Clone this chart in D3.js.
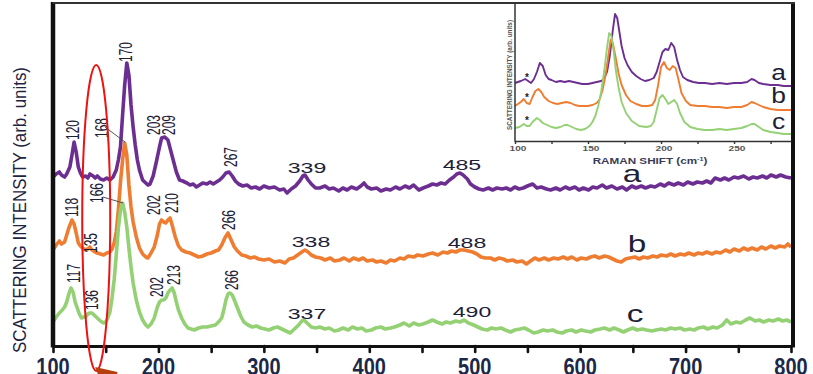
<!DOCTYPE html>
<html>
<head>
<meta charset="utf-8">
<script src="https://cdn.jsdelivr.net/npm/d3@7"></script>
<style>
  body { margin: 0; background: #fff; }
  svg { display: block; }
  text { font-family: "Liberation Sans", Arial, sans-serif; }
</style>
</head>
<body>
<svg id="chart" width="813" height="374"></svg>
<script>
// Raman shift (cm-1) vs scattering intensity (arb. units)
var spectrumA = [[100,169],[103,172],[106,174],[108,171],[111,169],[113,172],[116,179],[118,191],[120,204],[122,194],[124,179],[126,173],[128,169],[131,170],[133,168],[135,172],[138,170],[140,168],[142,170],[145,167],[148,166],[151,168],[154,166],[157,169],[160,176],[162,186],[164,199],[166,231],[168,261],[170,283],[172,271],[174,241],[176,219],[178,201],[180,186],[182,176],[185,166],[188,163],[190,161],[192,162],[195,170],[198,184],[201,199],[203,208],[206,209],[209,206],[211,198],[214,186],[217,174],[220,166],[223,165],[227,163],[230,161],[233,162],[236,159],[239,161],[242,163],[246,162],[249,164],[252,162],[255,164],[258,166],[261,169],[264,173],[267,174],[270,170],[273,165],[276,162],[280,160],[284,161],[288,158],[292,159],[296,157],[300,160],[305,158],[310,159],[315,156],[319,157],[322,153],[326,157],[330,160],[334,165],[337,170],[339,171],[342,166],[345,162],[349,158],[353,158],[358,160],[362,157],[366,158],[371,155],[375,158],[379,156],[383,159],[388,157],[392,160],[395,163],[398,159],[402,157],[407,158],[411,155],[416,157],[420,156],[425,159],[429,157],[434,160],[438,158],[442,161],[447,156],[451,158],[456,160],[460,162],[464,161],[468,163],[472,162],[476,166],[480,169],[483,172],[486,173],[489,171],[493,167],[496,162],[500,159],[504,157],[508,156],[513,158],[517,156],[521,158],[526,157],[530,158],[534,156],[538,159],[542,157],[546,158],[550,160],[555,162],[559,158],[563,159],[568,157],[572,156],[577,158],[581,156],[586,159],[590,157],[595,159],[599,156],[603,158],[608,156],[612,159],[616,158],[621,161],[625,158],[630,160],[635,157],[640,159],[644,156],[649,160],[653,158],[658,160],[662,158],[667,160],[671,159],[676,162],[680,160],[684,163],[689,161],[693,163],[698,161],[702,164],[707,162],[711,164],[716,163],[720,165],[724,163],[728,168],[733,166],[737,168],[741,166],[746,169],[750,168],[755,170],[760,167],[764,169],[768,168],[773,170],[777,168],[781,171],[786,169],[790,171],[795,169],[800,168]];

var spectrumB = [[100,96],[103,101],[106,105],[108,102],[111,104],[113,111],[115,118],[118,126],[120,122],[122,113],[124,103],[126,100],[128,98],[131,96],[133,97],[135,99],[137,96],[140,94],[142,93],[145,92],[148,91],[151,93],[154,94],[156,97],[158,103],[160,114],[162,136],[164,164],[166,186],[168,203],[170,191],[172,161],[174,139],[176,124],[179,109],[182,98],[185,92],[188,89],[190,88],[193,93],[196,99],[199,111],[201,122],[203,126],[205,124],[207,123],[209,126],[211,128],[213,121],[216,109],[219,100],[222,96],[226,94],[230,93],[234,91],[238,89],[242,90],[246,92],[250,93],[254,95],[257,96],[260,101],[263,108],[266,113],[269,106],[272,99],[275,95],[279,91],[283,90],[287,88],[291,89],[295,87],[300,86],[305,87],[310,84],[315,85],[320,83],[324,87],[328,88],[332,91],[336,94],[339,96],[342,94],[345,91],[349,89],[354,88],[358,86],[363,88],[367,85],[372,86],[376,88],[381,85],[385,88],[390,86],[394,88],[398,85],[403,86],[407,84],[411,85],[416,83],[420,86],[424,85],[429,88],[433,87],[437,90],[442,89],[446,91],[451,90],[456,92],[460,93],[465,91],[470,94],[474,93],[478,95],[482,94],[486,96],[490,96],[494,95],[498,94],[502,92],[506,89],[510,88],[515,88],[519,86],[523,88],[527,87],[531,85],[536,86],[540,84],[545,85],[549,82],[553,85],[557,88],[561,86],[566,88],[570,86],[575,88],[579,87],[584,89],[588,87],[592,89],[597,86],[601,88],[606,87],[610,89],[614,90],[618,88],[623,90],[627,89],[631,87],[635,85],[639,84],[643,87],[647,88],[652,89],[656,87],[660,89],[664,88],[669,90],[673,89],[677,91],[682,90],[686,92],[690,90],[695,92],[699,91],[703,93],[708,91],[712,93],[716,92],[720,94],[725,92],[729,94],[733,93],[738,96],[742,94],[746,97],[751,95],[755,98],[759,96],[763,98],[768,96],[772,99],[776,97],[781,100],[785,98],[789,100],[794,99],[797,102],[800,99]];

var spectrumC = [[100,24],[103,29],[106,33],[108,35],[111,39],[113,44],[115,52],[117,58],[119,54],[121,44],[123,38],[125,32],[127,28],[129,29],[131,29],[133,32],[135,33],[137,33],[139,31],[141,29],[143,27],[145,25],[148,23],[150,24],[152,28],[154,34],[156,48],[158,66],[160,91],[162,118],[164,136],[166,143],[168,134],[170,119],[172,98],[174,79],[176,63],[179,46],[182,34],[185,26],[188,21],[190,19],[193,22],[196,28],[199,39],[201,44],[203,46],[205,46],[207,48],[209,53],[211,56],[213,58],[215,53],[217,44],[219,36],[222,28],[225,22],[228,18],[231,17],[234,16],[238,18],[242,19],[246,19],[250,20],[254,21],[257,24],[260,28],[262,36],[264,46],[266,52],[268,53],[270,51],[272,46],[275,38],[278,30],[281,24],[285,21],[289,19],[293,20],[297,18],[301,17],[305,16],[309,18],[313,19],[317,17],[321,15],[325,13],[329,17],[333,21],[336,25],[338,26],[341,23],[345,19],[349,18],[353,19],[358,17],[362,18],[367,15],[371,16],[375,18],[380,16],[384,19],[389,17],[393,18],[397,15],[402,16],[406,18],[411,19],[415,17],[420,18],[424,19],[429,21],[433,23],[438,20],[442,23],[447,21],[451,22],[456,24],[460,26],[464,24],[469,22],[473,24],[477,23],[482,25],[486,24],[490,26],[494,23],[499,21],[503,19],[507,17],[512,16],[516,18],[520,17],[525,18],[529,16],[534,14],[538,16],[543,17],[547,18],[551,16],[556,13],[560,14],[565,16],[569,15],[574,16],[578,14],[583,13],[587,15],[592,16],[596,14],[601,16],[605,15],[610,14],[614,16],[619,17],[623,18],[628,16],[632,18],[637,16],[641,14],[645,16],[650,18],[654,16],[659,17],[663,16],[668,15],[672,16],[677,17],[681,16],[686,18],[690,17],[695,18],[699,16],[704,17],[708,16],[712,18],[717,19],[721,17],[726,19],[730,18],[735,21],[739,26],[743,22],[748,24],[752,23],[757,26],[761,28],[766,25],[770,26],[774,24],[779,26],[783,25],[788,27],[792,25],[796,26],[800,24]];

// inset: low-frequency region
var insetA = [[100,58],[104,60],[107,62],[109,60],[111,58],[113,62],[115,69],[117,78],[119,75],[121,66],[123,62],[125,61],[128,59],[131,60],[134,59],[137,60],[140,59],[143,58],[146,57],[150,57],[153,58],[156,59],[159,60],[161,62],[163,69],[165,86],[167,111],[168.5,127],[170,123],[171.5,109],[173,95],[175,83],[177,76],[180,69],[183,65],[186,62],[189,60],[192,61],[195,63],[197,69],[199,79],[201,89],[203,92],[205,91],[207,98],[209,94],[211,81],[213,71],[215,64],[218,61],[222,59],[226,58],[230,58],[235,57],[240,58],[245,57],[250,58],[255,58],[259,59],[262,62],[264,61],[267,58],[270,57],[275,56],[280,56],[284,55],[289,55]];
var insetB = [[100,35],[104,39],[106,42],[108,38],[110,37],[112,44],[114,50],[116,52],[118,49],[120,44],[123,40],[126,38],[129,37],[132,38],[135,39],[138,38],[141,36],[144,35],[147,35],[150,35],[153,36],[156,38],[158,42],[160,51],[162,66],[164,86],[165.5,101],[167,98],[169,83],[171,67],[173,56],[176,46],[179,40],[183,37],[187,35],[191,35],[194,36],[196,41],[198,56],[200,74],[202,79],[204,73],[206,71],[208,75],[210,73],[212,61],[214,48],[217,40],[220,36],[225,35],[230,35],[235,34],[240,34],[245,33],[250,34],[255,34],[259,36],[262,39],[264,38],[267,36],[270,34],[275,32],[280,31],[284,31],[289,31]];
var insetC = [[100,13],[103,14],[106,17],[108,15],[110,15],[112,19],[115,23],[117,21],[119,18],[122,16],[125,14],[128,13],[131,14],[134,16],[136,16],[139,14],[142,12],[145,11],[148,12],[151,15],[153,19],[155,25],[157,35],[159,49],[161,69],[163,93],[164.5,108],[166,105],[167.5,91],[169,71],[171,53],[173,39],[176,28],[180,20],[185,15],[190,14],[193,15],[195,19],[197,31],[199,43],[201,46],[203,42],[205,37],[207,39],[209,41],[211,37],[213,28],[216,19],[220,14],[225,12],[230,11],[235,11],[240,12],[245,11],[250,12],[255,13],[259,15],[262,17],[264,17],[267,14],[270,11],[275,9],[280,8],[284,7],[289,7]];

var seriesNames = ["a", "b", "c"];
var seriesColors = ["#6c2e91", "#ef7d31", "#94d074"];

var mainTicks = [100, 150, 200, 250, 300, 350, 400, 450, 500, 550, 600, 650, 700, 750, 800];
var mainTickLabels = [100, 200, 300, 400, 500, 600, 700, 800];
var insetTicks = [100, 125, 150, 175, 200, 225, 250, 275];
var insetTickLabels = [100, 150, 200, 250];

// peak annotations: [text, shift, intensity]
var verticalLabels = [
    ["120", 124.7, 206], ["170", 174.9, 284], ["203", 201.5, 211], ["209", 215.7, 211], ["267", 274.5, 179],
    ["118", 123.7, 129], ["168", 152.2, 208], ["135", 141.7, 93], ["202", 201.5, 131], ["210", 218.6, 133], ["266", 272.6, 116],
    ["117", 125.6, 63], ["166", 147.4, 143], ["136", 142.7, 36], ["202", 204.3, 49], ["213", 220.5, 61], ["266", 275.5, 56]
];
var flatLabels = [
    ["339", 340.9, 173], ["485", 487.9, 176],
    ["338", 344.7, 99], ["488", 492.7, 98],
    ["337", 340.9, 27], ["490", 497.4, 29]
];
// thin leader lines from a label to its peak
var leaderLines = [[149.3, 219, 168.3, 204], [147.4, 149, 166.4, 143]];
// series letters [shift, intensity]
var mainLetterPos = [[649.2, 164], [653.9, 94], [652.0, 24]];
var insetLetterPos = [[280.5, 61], [280.5, 38], [280.5, 12]];
var insetStarPos = [[108.2, 60], [108.2, 40], [108.2, 17]];

var svg = d3.select("#chart");
var ink = "#1d2138";

var x = d3.scaleLinear().domain([100, 800]).range([53, 791]);
var y = d3.scaleLinear().domain([0, 343]).range([346, 3]);
var xi = d3.scaleLinear().domain([100, 289]).range([515, 791]);
var yi = d3.scaleLinear().domain([0, 138]).range([141, 3]);

// spectra
var line = d3.line().x(function (d) { return x(d[0]); }).y(function (d) { return y(d[1]); });
[spectrumA, spectrumB, spectrumC].forEach(function (s, i) {
    svg.append("path").datum(s)
        .attr("d", line)
        .attr("fill", "none")
        .attr("stroke", seriesColors[i])
        .attr("stroke-width", 3.6)
        .attr("stroke-linejoin", "round");
});

// leader lines
svg.append("g").selectAll("line").data(leaderLines).join("line")
    .attr("x1", function (d) { return x(d[0]); })
    .attr("y1", function (d) { return y(d[1]); })
    .attr("x2", function (d) { return x(d[2]); })
    .attr("y2", function (d) { return y(d[3]); })
    .attr("stroke", "#444")
    .attr("stroke-width", 0.9);

// peak labels
svg.append("g").selectAll("text").data(verticalLabels).join("text")
    .attr("transform", function (d) { return "translate(" + x(d[1]) + "," + y(d[2]) + ") scale(1.5,1) rotate(-90)"; })
    .attr("font-size", 12)
    .attr("fill", ink)
    .text(function (d) { return d[0]; });

svg.append("g").selectAll("text").data(flatLabels).join("text")
    .attr("transform", function (d) { return "translate(" + x(d[1]) + "," + y(d[2]) + ") scale(1.65,1)"; })
    .attr("text-anchor", "middle")
    .attr("font-size", 14)
    .attr("fill", ink)
    .text(function (d) { return d[0]; });

svg.append("g").selectAll("text").data(mainLetterPos).join("text")
    .attr("transform", function (d) { return "translate(" + x(d[0]) + "," + y(d[1]) + ") scale(1.45,1)"; })
    .attr("text-anchor", "middle")
    .attr("font-family", "'DejaVu Serif', serif")
    .attr("font-size", 23)
    .attr("fill", ink)
    .text(function (d, i) { return seriesNames[i]; });

// main axes
var xAxis = d3.axisBottom(x).tickValues(mainTicks).tickSize(6).tickSizeOuter(0).tickFormat("");
var gx = svg.append("g").attr("transform", "translate(0,346)").call(xAxis);
gx.select(".domain").attr("stroke", "#111").attr("stroke-width", 3);
gx.selectAll(".tick line").attr("stroke", "#111").attr("stroke-width", 2.6).attr("stroke-linecap", "round");

svg.append("g").selectAll("text").data(mainTickLabels).join("text")
    .attr("transform", function (d) { return "translate(" + x(d) + ",375) scale(1,1.2)"; })
    .attr("text-anchor", "middle")
    .attr("font-size", 20)
    .attr("font-weight", "bold")
    .attr("fill", "#1c2848")
    .text(function (d) { return d; });

svg.append("line").attr("x1", 53).attr("x2", 53).attr("y1", y.range()[1] - 1).attr("y2", 347.5)
    .attr("stroke", "#111").attr("stroke-width", 4.5);
svg.append("line").attr("x1", 793).attr("x2", 793).attr("y1", y.range()[1] - 1).attr("y2", 347.5)
    .attr("stroke", "#111").attr("stroke-width", 4);
svg.append("line").attr("x1", 53).attr("x2", 795).attr("y1", 3).attr("y2", 3)
    .attr("stroke", "#333").attr("stroke-width", 2.2);

svg.append("text")
    .attr("transform", "translate(26,210) rotate(-90)")
    .attr("text-anchor", "middle")
    .attr("font-size", 19)
    .attr("textLength", 286)
    .attr("lengthAdjust", "spacingAndGlyphs")
    .attr("fill", "#1e2440")
    .text("SCATTERING INTENSITY (arb. units)");

// inset
var inset = svg.append("g");
var lineI = d3.line().x(function (d) { return xi(d[0]); }).y(function (d) { return yi(d[1]); });
[insetA, insetB, insetC].forEach(function (s, i) {
    inset.append("path").datum(s)
        .attr("d", lineI)
        .attr("fill", "none")
        .attr("stroke", seriesColors[i])
        .attr("stroke-width", 1.9)
        .attr("stroke-linejoin", "round");
});

var xAxisI = d3.axisBottom(xi).tickValues(insetTicks).tickSize(3).tickSizeOuter(0).tickFormat("");
var gxi = inset.append("g").attr("transform", "translate(0,141)").call(xAxisI);
gxi.select(".domain").attr("stroke", "#333").attr("stroke-width", 1.5);
gxi.selectAll(".tick line").attr("stroke", "#333").attr("stroke-width", 1.4);

inset.append("line").attr("x1", 515).attr("x2", 515).attr("y1", 3).attr("y2", 141.7)
    .attr("stroke", "#333").attr("stroke-width", 1.5);

inset.append("g").selectAll("text").data(insetTickLabels).join("text")
    .attr("transform", function (d) { return "translate(" + (xi(d) + 3) + ",150.5) scale(1.35,1)"; })
    .attr("text-anchor", "middle")
    .attr("font-size", 7.5)
    .attr("font-weight", "bold")
    .attr("fill", "#555")
    .text(function (d) { return d; });

var axisTitle = inset.append("text")
    .attr("transform", "translate(650,164) scale(1.3,1)")
    .attr("text-anchor", "middle")
    .attr("font-size", 9)
    .attr("font-weight", "bold")
    .attr("fill", "#3a3d55");
axisTitle.append("tspan").text("RAMAN SHIFT (cm");
axisTitle.append("tspan").attr("dy", -3.5).attr("font-size", 5.5).text("-1");
axisTitle.append("tspan").attr("dy", 3.5).text(")");

inset.append("text")
    .attr("transform", "translate(512,75) rotate(-90)")
    .attr("text-anchor", "middle")
    .attr("font-size", 7.5)
    .attr("font-weight", "bold")
    .attr("textLength", 110)
    .attr("lengthAdjust", "spacingAndGlyphs")
    .attr("fill", "#555")
    .text("SCATTERING INTENSITY (arb. units)");

inset.append("g").selectAll("text").data(insetLetterPos).join("text")
    .attr("transform", function (d) { return "translate(" + xi(d[0]) + "," + yi(d[1]) + ") scale(1.2,1)"; })
    .attr("text-anchor", "middle")
    .attr("font-family", "'DejaVu Serif', serif")
    .attr("font-size", 22)
    .attr("fill", ink)
    .text(function (d, i) { return seriesNames[i]; });

inset.append("g").selectAll("text").data(insetStarPos).join("text")
    .attr("x", function (d) { return xi(d[0]); })
    .attr("y", function (d) { return yi(d[1]); })
    .attr("text-anchor", "middle")
    .attr("font-size", 10)
    .attr("font-weight", "bold")
    .attr("fill", "#222")
    .text("*");

// red highlight around the 135 cm-1 region
svg.append("ellipse")
    .attr("cx", x(141)).attr("cy", y(128))
    .attr("rx", 14).attr("ry", 153)
    .attr("fill", "none")
    .attr("stroke", "#ee1111")
    .attr("stroke-width", 2);
svg.append("polygon")
    .attr("points", [[x(140), 367], [x(161), 372], [x(161), 378], [x(144), 378]].map(function (p) { return p.join(","); }).join(" "))
    .attr("fill", "#b5400e");
</script>
</body>
</html>
